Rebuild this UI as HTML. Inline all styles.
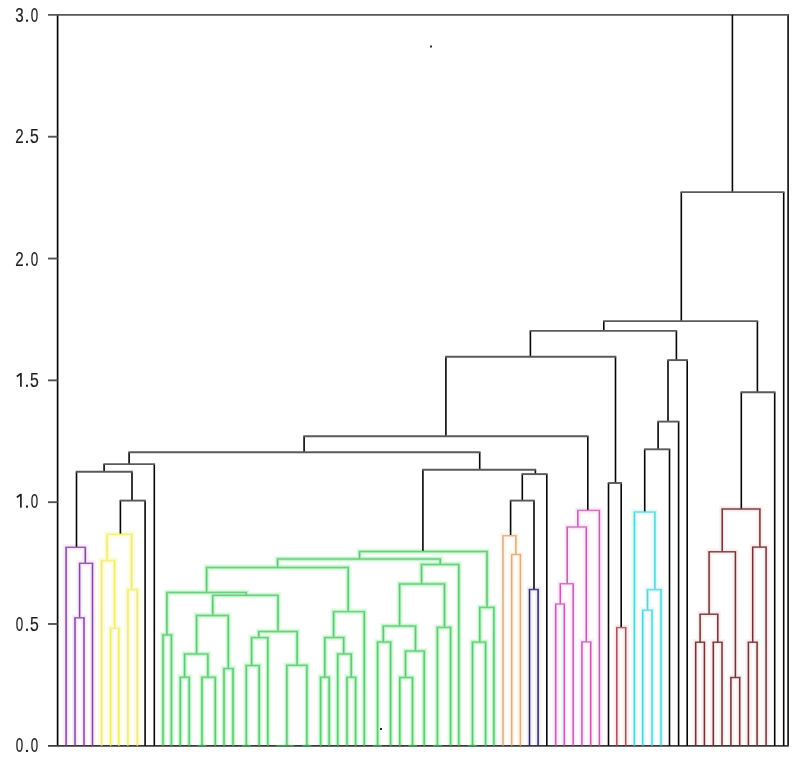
<!DOCTYPE html>
<html><head><meta charset="utf-8"><style>
html,body{margin:0;padding:0;background:#fff;}
body{width:796px;height:757px;overflow:hidden;position:relative;}
svg{position:absolute;left:0;top:0;}
</style></head><body>
<svg width="796" height="757" viewBox="0 0 796 757">
<g fill="none" stroke-width="6.5" stroke-linejoin="miter"><path d="M66.1 745.8V547.3H85.3V563.3" stroke="#faf0fd"/><path d="M79.6 617.8V563.3H92.5V745.8" stroke="#faf0fd"/><path d="M75 745.8V617.8H84V745.8" stroke="#faf0fd"/><path d="M107.1 560.6V534.3H131.6V589.5" stroke="#fefde0"/><path d="M101.6 745.8V560.6H114.6V628.3" stroke="#fefde0"/><path d="M110.6 745.8V628.3H118.8V745.8" stroke="#fefde0"/><path d="M127.9 745.8V589.5H137.3V745.8" stroke="#fefde0"/><path d="M359.6 558.9V551.5H487V607.4" stroke="#e8fdea"/><path d="M277.6 567.4V558.9H440.2V564.4" stroke="#e8fdea"/><path d="M206.6 592.5V567.4H348.2V611.6" stroke="#e8fdea"/><path d="M166.9 634.9V592.5H246.3V595.2" stroke="#e8fdea"/><path d="M163 745.8V634.9H171.4V745.8" stroke="#e8fdea"/><path d="M212.7 615.4V595.2H278V631.5" stroke="#e8fdea"/><path d="M196.6 654V615.4H228.3V668.6" stroke="#e8fdea"/><path d="M184.6 677.2V654H207.9V677.2" stroke="#e8fdea"/><path d="M180.3 745.8V677.2H189.2V745.8" stroke="#e8fdea"/><path d="M202 745.8V677.2H215.3V745.8" stroke="#e8fdea"/><path d="M224 745.8V668.6H233V745.8" stroke="#e8fdea"/><path d="M258.8 637.6V631.5H297.1V665.3" stroke="#e8fdea"/><path d="M251.6 665.5V637.6H267.8V745.8" stroke="#e8fdea"/><path d="M246.3 745.8V665.5H259.2V745.8" stroke="#e8fdea"/><path d="M286.8 745.8V665.3H306.9V745.8" stroke="#e8fdea"/><path d="M333.6 637.5V611.6H364.3V745.8" stroke="#e8fdea"/><path d="M324.8 677.2V637.5H343.7V654" stroke="#e8fdea"/><path d="M320.6 745.8V677.2H329.2V745.8" stroke="#e8fdea"/><path d="M337.7 745.8V654H351.2V677.2" stroke="#e8fdea"/><path d="M347 745.8V677.2H355.6V745.8" stroke="#e8fdea"/><path d="M421.5 583.9V564.4H458.8V745.8" stroke="#e8fdea"/><path d="M399.6 626V583.9H444.5V627.4" stroke="#e8fdea"/><path d="M383.3 642V626H415.5V651" stroke="#e8fdea"/><path d="M377.6 745.8V642H390.6V745.8" stroke="#e8fdea"/><path d="M405.5 677.5V651H424.2V745.8" stroke="#e8fdea"/><path d="M399.8 745.8V677.5H412.5V745.8" stroke="#e8fdea"/><path d="M437.4 745.8V627.4H450.6V745.8" stroke="#e8fdea"/><path d="M479.8 642.1V607.4H493.9V745.8" stroke="#e8fdea"/><path d="M472.5 745.8V642.1H485.6V745.8" stroke="#e8fdea"/><path d="M503 745.8V535.7H515.9V554.5" stroke="#fff8ee"/><path d="M511.7 745.8V554.5H520.4V745.8" stroke="#fff8ee"/><path d="M529.5 745.8V589.5H538.1V745.8" stroke="#f4f3fa"/><path d="M577.8 527V510.4H599.4V745.8" stroke="#fef0fc"/><path d="M567.2 583.7V527H586.3V641.9" stroke="#fef0fc"/><path d="M560.3 604V583.7H573.2V745.8" stroke="#fef0fc"/><path d="M555.7 745.8V604H564.3V745.8" stroke="#fef0fc"/><path d="M581.9 745.8V641.9H590.7V745.8" stroke="#fef0fc"/><path d="M616.8 745.8V627.6H625.7V745.8" stroke="#fdf2f3"/><path d="M634.4 745.8V512H654.9V589.6" stroke="#ecfcfd"/><path d="M647.5 610.2V589.6H661V745.8" stroke="#ecfcfd"/><path d="M642.7 745.8V610.2H652V745.8" stroke="#ecfcfd"/><path d="M722.2 551.8V508.9H759.9V547.1" stroke="#fcf3f3"/><path d="M709.1 614.2V551.8H735.4V677.5" stroke="#fcf3f3"/><path d="M700.1 642.2V614.2H717.8V642.2" stroke="#fcf3f3"/><path d="M695.7 745.8V642.2H704.4V745.8" stroke="#fcf3f3"/><path d="M713.3 745.8V642.2H722V745.8" stroke="#fcf3f3"/><path d="M730.9 745.8V677.5H739.7V745.8" stroke="#fcf3f3"/><path d="M752.7 642.2V547.1H766.1V745.8" stroke="#fcf3f3"/><path d="M748.4 745.8V642.2H757.1V745.8" stroke="#fcf3f3"/></g>
<g fill="none" stroke-width="3.6" stroke-linejoin="miter"><path d="M66.1 745.8V547.3H85.3V563.3" stroke="#f4e0fa"/><path d="M79.6 617.8V563.3H92.5V745.8" stroke="#f4e0fa"/><path d="M75 745.8V617.8H84V745.8" stroke="#f4e0fa"/><path d="M107.1 560.6V534.3H131.6V589.5" stroke="#fcfac8"/><path d="M101.6 745.8V560.6H114.6V628.3" stroke="#fcfac8"/><path d="M110.6 745.8V628.3H118.8V745.8" stroke="#fcfac8"/><path d="M127.9 745.8V589.5H137.3V745.8" stroke="#fcfac8"/><path d="M359.6 558.9V551.5H487V607.4" stroke="#b8f6c2"/><path d="M277.6 567.4V558.9H440.2V564.4" stroke="#b8f6c2"/><path d="M206.6 592.5V567.4H348.2V611.6" stroke="#b8f6c2"/><path d="M166.9 634.9V592.5H246.3V595.2" stroke="#b8f6c2"/><path d="M163 745.8V634.9H171.4V745.8" stroke="#b8f6c2"/><path d="M212.7 615.4V595.2H278V631.5" stroke="#b8f6c2"/><path d="M196.6 654V615.4H228.3V668.6" stroke="#b8f6c2"/><path d="M184.6 677.2V654H207.9V677.2" stroke="#b8f6c2"/><path d="M180.3 745.8V677.2H189.2V745.8" stroke="#b8f6c2"/><path d="M202 745.8V677.2H215.3V745.8" stroke="#b8f6c2"/><path d="M224 745.8V668.6H233V745.8" stroke="#b8f6c2"/><path d="M258.8 637.6V631.5H297.1V665.3" stroke="#b8f6c2"/><path d="M251.6 665.5V637.6H267.8V745.8" stroke="#b8f6c2"/><path d="M246.3 745.8V665.5H259.2V745.8" stroke="#b8f6c2"/><path d="M286.8 745.8V665.3H306.9V745.8" stroke="#b8f6c2"/><path d="M333.6 637.5V611.6H364.3V745.8" stroke="#b8f6c2"/><path d="M324.8 677.2V637.5H343.7V654" stroke="#b8f6c2"/><path d="M320.6 745.8V677.2H329.2V745.8" stroke="#b8f6c2"/><path d="M337.7 745.8V654H351.2V677.2" stroke="#b8f6c2"/><path d="M347 745.8V677.2H355.6V745.8" stroke="#b8f6c2"/><path d="M421.5 583.9V564.4H458.8V745.8" stroke="#b8f6c2"/><path d="M399.6 626V583.9H444.5V627.4" stroke="#b8f6c2"/><path d="M383.3 642V626H415.5V651" stroke="#b8f6c2"/><path d="M377.6 745.8V642H390.6V745.8" stroke="#b8f6c2"/><path d="M405.5 677.5V651H424.2V745.8" stroke="#b8f6c2"/><path d="M399.8 745.8V677.5H412.5V745.8" stroke="#b8f6c2"/><path d="M437.4 745.8V627.4H450.6V745.8" stroke="#b8f6c2"/><path d="M479.8 642.1V607.4H493.9V745.8" stroke="#b8f6c2"/><path d="M472.5 745.8V642.1H485.6V745.8" stroke="#b8f6c2"/><path d="M503 745.8V535.7H515.9V554.5" stroke="#fff0dc"/><path d="M511.7 745.8V554.5H520.4V745.8" stroke="#fff0dc"/><path d="M529.5 745.8V589.5H538.1V745.8" stroke="#e8e6f4"/><path d="M577.8 527V510.4H599.4V745.8" stroke="#fde2f8"/><path d="M567.2 583.7V527H586.3V641.9" stroke="#fde2f8"/><path d="M560.3 604V583.7H573.2V745.8" stroke="#fde2f8"/><path d="M555.7 745.8V604H564.3V745.8" stroke="#fde2f8"/><path d="M581.9 745.8V641.9H590.7V745.8" stroke="#fde2f8"/><path d="M616.8 745.8V627.6H625.7V745.8" stroke="#fbe4e8"/><path d="M634.4 745.8V512H654.9V589.6" stroke="#d2f8fa"/><path d="M647.5 610.2V589.6H661V745.8" stroke="#d2f8fa"/><path d="M642.7 745.8V610.2H652V745.8" stroke="#d2f8fa"/><path d="M722.2 551.8V508.9H759.9V547.1" stroke="#f8e6e6"/><path d="M709.1 614.2V551.8H735.4V677.5" stroke="#f8e6e6"/><path d="M700.1 642.2V614.2H717.8V642.2" stroke="#f8e6e6"/><path d="M695.7 745.8V642.2H704.4V745.8" stroke="#f8e6e6"/><path d="M713.3 745.8V642.2H722V745.8" stroke="#f8e6e6"/><path d="M730.9 745.8V677.5H739.7V745.8" stroke="#f8e6e6"/><path d="M752.7 642.2V547.1H766.1V745.8" stroke="#f8e6e6"/><path d="M748.4 745.8V642.2H757.1V745.8" stroke="#f8e6e6"/></g>
<g stroke="#080808" fill="none">
<line x1="57.6" y1="14" x2="57.6" y2="745.8" stroke-width="1.7"/>
<line x1="788.1" y1="14" x2="788.1" y2="745.8" stroke-width="1.6"/>
<line x1="48" y1="14.9" x2="788.85" y2="14.9" stroke-width="1.9" stroke="#555"/>
<line x1="48" y1="745.8" x2="788.85" y2="745.8" stroke-width="1.8" stroke="#3a3a3a"/>
<line x1="48" y1="623.98" x2="57.6" y2="623.98" stroke-width="1.9" stroke="#555"/>
<line x1="48" y1="502.17" x2="57.6" y2="502.17" stroke-width="1.9" stroke="#555"/>
<line x1="48" y1="380.35" x2="57.6" y2="380.35" stroke-width="1.9" stroke="#555"/>
<line x1="48" y1="258.53" x2="57.6" y2="258.53" stroke-width="1.9" stroke="#555"/>
<line x1="48" y1="136.72" x2="57.6" y2="136.72" stroke-width="1.9" stroke="#555"/>
<line x1="732.4" y1="14.9" x2="732.4" y2="192.1" stroke-width="1.6"/>
</g>
<g fill="none" stroke-width="1.5"><path d="M681.3 321.1V192.1M783.7 192.1V745.8" stroke="#060606" stroke-width="1.6"/><path d="M680.55 192.1H784.45" stroke="#5a5a5a" stroke-width="1.9"/><path d="M603.8 330.9V321.1M757.4 321.1V392.2" stroke="#060606" stroke-width="1.6"/><path d="M603.05 321.1H758.15" stroke="#5a5a5a" stroke-width="1.9"/><path d="M530.4 356.8V330.9M676.4 330.9V360.1" stroke="#060606" stroke-width="1.6"/><path d="M529.65 330.9H677.15" stroke="#5a5a5a" stroke-width="1.9"/><path d="M445.9 436.3V356.8M615.5 356.8V483" stroke="#060606" stroke-width="1.6"/><path d="M445.15 356.8H616.25" stroke="#5a5a5a" stroke-width="1.9"/><path d="M304.1 452.3V436.3M587.8 436.3V510.4" stroke="#060606" stroke-width="1.6"/><path d="M303.35 436.3H588.55" stroke="#5a5a5a" stroke-width="1.9"/><path d="M129.1 464.1V452.3M479.7 452.3V469.7" stroke="#060606" stroke-width="1.6"/><path d="M128.35 452.3H480.45" stroke="#5a5a5a" stroke-width="1.9"/><path d="M104.1 471.8V464.1M154.3 464.1V745.8" stroke="#060606" stroke-width="1.6"/><path d="M103.35 464.1H155.05" stroke="#5a5a5a" stroke-width="1.9"/><path d="M76.5 547.3V471.8M132 471.8V500.6" stroke="#060606" stroke-width="1.6"/><path d="M75.75 471.8H132.75" stroke="#5a5a5a" stroke-width="1.9"/><path d="M120.4 534.3V500.6M145.1 500.6V745.8" stroke="#060606" stroke-width="1.6"/><path d="M119.65 500.6H145.85" stroke="#5a5a5a" stroke-width="1.9"/><path d="M422.9 551.5V469.7M535.4 469.7V474.1" stroke="#060606" stroke-width="1.6"/><path d="M422.15 469.7H536.15" stroke="#5a5a5a" stroke-width="1.9"/><path d="M522.3 500.6V474.1M546.8 474.1V745.8" stroke="#060606" stroke-width="1.6"/><path d="M521.55 474.1H547.55" stroke="#5a5a5a" stroke-width="1.9"/><path d="M510.6 535.7V500.6M534 500.6V589.5" stroke="#060606" stroke-width="1.6"/><path d="M509.85 500.6H534.75" stroke="#5a5a5a" stroke-width="1.9"/><path d="M608.5 745.8V483M621.2 483V627.6" stroke="#060606" stroke-width="1.6"/><path d="M607.75 483H621.95" stroke="#5a5a5a" stroke-width="1.9"/><path d="M668 421.6V360.1M687.2 360.1V745.8" stroke="#060606" stroke-width="1.6"/><path d="M667.25 360.1H687.95" stroke="#5a5a5a" stroke-width="1.9"/><path d="M658.1 449.3V421.6M678.6 421.6V745.8" stroke="#060606" stroke-width="1.6"/><path d="M657.35 421.6H679.35" stroke="#5a5a5a" stroke-width="1.9"/><path d="M644.7 512V449.3M669.5 449.3V745.8" stroke="#060606" stroke-width="1.6"/><path d="M643.95 449.3H670.25" stroke="#5a5a5a" stroke-width="1.9"/><path d="M741.3 508.9V392.2M774.7 392.2V745.8" stroke="#060606" stroke-width="1.6"/><path d="M740.55 392.2H775.45" stroke="#5a5a5a" stroke-width="1.9"/><path d="M66.1 745.8V547.3M85.3 547.3V563.3" stroke="#8248a0" stroke-width="1.5"/><path d="M65.35 547.3H86.05" stroke="#8e64a0" stroke-width="1.45"/><path d="M79.6 617.8V563.3M92.5 563.3V745.8" stroke="#8248a0" stroke-width="1.5"/><path d="M78.85 563.3H93.25" stroke="#8e64a0" stroke-width="1.45"/><path d="M75 745.8V617.8M84 617.8V745.8" stroke="#8248a0" stroke-width="1.5"/><path d="M74.25 617.8H84.75" stroke="#8e64a0" stroke-width="1.45"/><path d="M107.1 560.6V534.3M131.6 534.3V589.5" stroke="#eeeb74" stroke-width="1.5"/><path d="M106.35 534.3H132.35" stroke="#f2f08e" stroke-width="1.45"/><path d="M101.6 745.8V560.6M114.6 560.6V628.3" stroke="#eeeb74" stroke-width="1.5"/><path d="M100.85 560.6H115.35" stroke="#f2f08e" stroke-width="1.45"/><path d="M110.6 745.8V628.3M118.8 628.3V745.8" stroke="#eeeb74" stroke-width="1.5"/><path d="M109.85 628.3H119.55" stroke="#f2f08e" stroke-width="1.45"/><path d="M127.9 745.8V589.5M137.3 589.5V745.8" stroke="#eeeb74" stroke-width="1.5"/><path d="M127.15 589.5H138.05" stroke="#f2f08e" stroke-width="1.45"/><path d="M359.6 558.9V551.5M487 551.5V607.4" stroke="#64c47a" stroke-width="1.5"/><path d="M358.85 551.5H487.75" stroke="#74ca88" stroke-width="1.45"/><path d="M277.6 567.4V558.9M440.2 558.9V564.4" stroke="#64c47a" stroke-width="1.5"/><path d="M276.85 558.9H440.95" stroke="#74ca88" stroke-width="1.45"/><path d="M206.6 592.5V567.4M348.2 567.4V611.6" stroke="#64c47a" stroke-width="1.5"/><path d="M205.85 567.4H348.95" stroke="#74ca88" stroke-width="1.45"/><path d="M166.9 634.9V592.5M246.3 592.5V595.2" stroke="#64c47a" stroke-width="1.5"/><path d="M166.15 592.5H247.05" stroke="#74ca88" stroke-width="1.45"/><path d="M163 745.8V634.9M171.4 634.9V745.8" stroke="#64c47a" stroke-width="1.5"/><path d="M162.25 634.9H172.15" stroke="#74ca88" stroke-width="1.45"/><path d="M212.7 615.4V595.2M278 595.2V631.5" stroke="#64c47a" stroke-width="1.5"/><path d="M211.95 595.2H278.75" stroke="#74ca88" stroke-width="1.45"/><path d="M196.6 654V615.4M228.3 615.4V668.6" stroke="#64c47a" stroke-width="1.5"/><path d="M195.85 615.4H229.05" stroke="#74ca88" stroke-width="1.45"/><path d="M184.6 677.2V654M207.9 654V677.2" stroke="#64c47a" stroke-width="1.5"/><path d="M183.85 654H208.65" stroke="#74ca88" stroke-width="1.45"/><path d="M180.3 745.8V677.2M189.2 677.2V745.8" stroke="#64c47a" stroke-width="1.5"/><path d="M179.55 677.2H189.95" stroke="#74ca88" stroke-width="1.45"/><path d="M202 745.8V677.2M215.3 677.2V745.8" stroke="#64c47a" stroke-width="1.5"/><path d="M201.25 677.2H216.05" stroke="#74ca88" stroke-width="1.45"/><path d="M224 745.8V668.6M233 668.6V745.8" stroke="#64c47a" stroke-width="1.5"/><path d="M223.25 668.6H233.75" stroke="#74ca88" stroke-width="1.45"/><path d="M258.8 637.6V631.5M297.1 631.5V665.3" stroke="#64c47a" stroke-width="1.5"/><path d="M258.05 631.5H297.85" stroke="#74ca88" stroke-width="1.45"/><path d="M251.6 665.5V637.6M267.8 637.6V745.8" stroke="#64c47a" stroke-width="1.5"/><path d="M250.85 637.6H268.55" stroke="#74ca88" stroke-width="1.45"/><path d="M246.3 745.8V665.5M259.2 665.5V745.8" stroke="#64c47a" stroke-width="1.5"/><path d="M245.55 665.5H259.95" stroke="#74ca88" stroke-width="1.45"/><path d="M286.8 745.8V665.3M306.9 665.3V745.8" stroke="#64c47a" stroke-width="1.5"/><path d="M286.05 665.3H307.65" stroke="#74ca88" stroke-width="1.45"/><path d="M333.6 637.5V611.6M364.3 611.6V745.8" stroke="#64c47a" stroke-width="1.5"/><path d="M332.85 611.6H365.05" stroke="#74ca88" stroke-width="1.45"/><path d="M324.8 677.2V637.5M343.7 637.5V654" stroke="#64c47a" stroke-width="1.5"/><path d="M324.05 637.5H344.45" stroke="#74ca88" stroke-width="1.45"/><path d="M320.6 745.8V677.2M329.2 677.2V745.8" stroke="#64c47a" stroke-width="1.5"/><path d="M319.85 677.2H329.95" stroke="#74ca88" stroke-width="1.45"/><path d="M337.7 745.8V654M351.2 654V677.2" stroke="#64c47a" stroke-width="1.5"/><path d="M336.95 654H351.95" stroke="#74ca88" stroke-width="1.45"/><path d="M347 745.8V677.2M355.6 677.2V745.8" stroke="#64c47a" stroke-width="1.5"/><path d="M346.25 677.2H356.35" stroke="#74ca88" stroke-width="1.45"/><path d="M421.5 583.9V564.4M458.8 564.4V745.8" stroke="#64c47a" stroke-width="1.5"/><path d="M420.75 564.4H459.55" stroke="#74ca88" stroke-width="1.45"/><path d="M399.6 626V583.9M444.5 583.9V627.4" stroke="#64c47a" stroke-width="1.5"/><path d="M398.85 583.9H445.25" stroke="#74ca88" stroke-width="1.45"/><path d="M383.3 642V626M415.5 626V651" stroke="#64c47a" stroke-width="1.5"/><path d="M382.55 626H416.25" stroke="#74ca88" stroke-width="1.45"/><path d="M377.6 745.8V642M390.6 642V745.8" stroke="#64c47a" stroke-width="1.5"/><path d="M376.85 642H391.35" stroke="#74ca88" stroke-width="1.45"/><path d="M405.5 677.5V651M424.2 651V745.8" stroke="#64c47a" stroke-width="1.5"/><path d="M404.75 651H424.95" stroke="#74ca88" stroke-width="1.45"/><path d="M399.8 745.8V677.5M412.5 677.5V745.8" stroke="#64c47a" stroke-width="1.5"/><path d="M399.05 677.5H413.25" stroke="#74ca88" stroke-width="1.45"/><path d="M437.4 745.8V627.4M450.6 627.4V745.8" stroke="#64c47a" stroke-width="1.5"/><path d="M436.65 627.4H451.35" stroke="#74ca88" stroke-width="1.45"/><path d="M479.8 642.1V607.4M493.9 607.4V745.8" stroke="#64c47a" stroke-width="1.5"/><path d="M479.05 607.4H494.65" stroke="#74ca88" stroke-width="1.45"/><path d="M472.5 745.8V642.1M485.6 642.1V745.8" stroke="#64c47a" stroke-width="1.5"/><path d="M471.75 642.1H486.35" stroke="#74ca88" stroke-width="1.45"/><path d="M503 745.8V535.7M515.9 535.7V554.5" stroke="#d8ae84" stroke-width="1.5"/><path d="M502.25 535.7H516.65" stroke="#dcb890" stroke-width="1.45"/><path d="M511.7 745.8V554.5M520.4 554.5V745.8" stroke="#d8ae84" stroke-width="1.5"/><path d="M510.95 554.5H521.15" stroke="#dcb890" stroke-width="1.45"/><path d="M529.5 745.8V589.5M538.1 589.5V745.8" stroke="#2e2466" stroke-width="1.5"/><path d="M528.75 589.5H538.85" stroke="#4a4480" stroke-width="1.45"/><path d="M577.8 527V510.4M599.4 510.4V745.8" stroke="#c45cb4" stroke-width="1.5"/><path d="M577.05 510.4H600.15" stroke="#cc78c0" stroke-width="1.45"/><path d="M567.2 583.7V527M586.3 527V641.9" stroke="#c45cb4" stroke-width="1.5"/><path d="M566.45 527H587.05" stroke="#cc78c0" stroke-width="1.45"/><path d="M560.3 604V583.7M573.2 583.7V745.8" stroke="#c45cb4" stroke-width="1.5"/><path d="M559.55 583.7H573.95" stroke="#cc78c0" stroke-width="1.45"/><path d="M555.7 745.8V604M564.3 604V745.8" stroke="#c45cb4" stroke-width="1.5"/><path d="M554.95 604H565.05" stroke="#cc78c0" stroke-width="1.45"/><path d="M581.9 745.8V641.9M590.7 641.9V745.8" stroke="#c45cb4" stroke-width="1.5"/><path d="M581.15 641.9H591.45" stroke="#cc78c0" stroke-width="1.45"/><path d="M616.8 745.8V627.6M625.7 627.6V745.8" stroke="#a4505a" stroke-width="1.5"/><path d="M616.05 627.6H626.45" stroke="#b06870" stroke-width="1.45"/><path d="M634.4 745.8V512M654.9 512V589.6" stroke="#56d2dc" stroke-width="1.5"/><path d="M633.65 512H655.65" stroke="#76dae0" stroke-width="1.45"/><path d="M647.5 610.2V589.6M661 589.6V745.8" stroke="#56d2dc" stroke-width="1.5"/><path d="M646.75 589.6H661.75" stroke="#76dae0" stroke-width="1.45"/><path d="M642.7 745.8V610.2M652 610.2V745.8" stroke="#56d2dc" stroke-width="1.5"/><path d="M641.95 610.2H652.75" stroke="#76dae0" stroke-width="1.45"/><path d="M722.2 551.8V508.9M759.9 508.9V547.1" stroke="#6e3438" stroke-width="1.5"/><path d="M721.45 508.9H760.65" stroke="#7a4248" stroke-width="1.45"/><path d="M709.1 614.2V551.8M735.4 551.8V677.5" stroke="#6e3438" stroke-width="1.5"/><path d="M708.35 551.8H736.15" stroke="#7a4248" stroke-width="1.45"/><path d="M700.1 642.2V614.2M717.8 614.2V642.2" stroke="#6e3438" stroke-width="1.5"/><path d="M699.35 614.2H718.55" stroke="#7a4248" stroke-width="1.45"/><path d="M695.7 745.8V642.2M704.4 642.2V745.8" stroke="#6e3438" stroke-width="1.5"/><path d="M694.95 642.2H705.15" stroke="#7a4248" stroke-width="1.45"/><path d="M713.3 745.8V642.2M722 642.2V745.8" stroke="#6e3438" stroke-width="1.5"/><path d="M712.55 642.2H722.75" stroke="#7a4248" stroke-width="1.45"/><path d="M730.9 745.8V677.5M739.7 677.5V745.8" stroke="#6e3438" stroke-width="1.5"/><path d="M730.15 677.5H740.45" stroke="#7a4248" stroke-width="1.45"/><path d="M752.7 642.2V547.1M766.1 547.1V745.8" stroke="#6e3438" stroke-width="1.5"/><path d="M751.95 547.1H766.85" stroke="#7a4248" stroke-width="1.45"/><path d="M748.4 745.8V642.2M757.1 642.2V745.8" stroke="#6e3438" stroke-width="1.5"/><path d="M747.65 642.2H757.85" stroke="#7a4248" stroke-width="1.45"/><path d="M197.6 745.8H206.4" stroke="#3f9a58" stroke-width="1.8"/><path d="M241.9 745.8H250.7" stroke="#3f9a58" stroke-width="1.8"/><path d="M276.4 745.8H293.9" stroke="#3f9a58" stroke-width="1.8"/><path d="M302.5 745.8H311.3" stroke="#3f9a58" stroke-width="1.8"/><path d="M373.2 745.8H382" stroke="#3f9a58" stroke-width="1.8"/><path d="M408.1 745.8H416.9" stroke="#3f9a58" stroke-width="1.8"/><path d="M433 745.8H441.8" stroke="#3f9a58" stroke-width="1.8"/><path d="M468.1 745.8H476.9" stroke="#3f9a58" stroke-width="1.8"/></g>
<rect x="430" y="45.5" width="2" height="2" fill="#333"/>
<rect x="380" y="728" width="2" height="2" fill="#222"/>
<g font-family="Liberation Sans" font-size="20" fill="#1d1d24" stroke="#1d1d24" stroke-width="0.2" style="filter:grayscale(1)"><text transform="translate(15.77,752) scale(0.67,1)">0</text><rect x="26" y="749.9" width="2" height="2.1" fill="#1d1d24" stroke="none"/><text transform="translate(30.77,752) scale(0.67,1)">0</text><text transform="translate(15.77,630.8) scale(0.67,1)">0</text><rect x="26" y="628.7" width="2" height="2.1" fill="#1d1d24" stroke="none"/><text transform="translate(30.12,630.8) scale(0.79,1)">5</text><rect x="20.05" y="493.9" width="1.7" height="13.8" fill="#1d1d24" stroke="none"/><path d="M16.8 497.4L20.7 494.5" stroke="#1d1d24" stroke-width="1.7" fill="none"/><rect x="26" y="505.6" width="2" height="2.1" fill="#1d1d24" stroke="none"/><text transform="translate(30.77,507.7) scale(0.67,1)">0</text><rect x="20.05" y="373" width="1.7" height="13.8" fill="#1d1d24" stroke="none"/><path d="M16.8 376.5L20.7 373.6" stroke="#1d1d24" stroke-width="1.7" fill="none"/><rect x="26" y="384.7" width="2" height="2.1" fill="#1d1d24" stroke="none"/><text transform="translate(30.12,386.8) scale(0.79,1)">5</text><text transform="translate(15.27,265.6) scale(0.76,1)">2</text><rect x="26" y="263.5" width="2" height="2.1" fill="#1d1d24" stroke="none"/><text transform="translate(30.77,265.6) scale(0.67,1)">0</text><text transform="translate(15.27,142.9) scale(0.76,1)">2</text><rect x="26" y="140.8" width="2" height="2.1" fill="#1d1d24" stroke="none"/><text transform="translate(30.12,142.9) scale(0.79,1)">5</text><text transform="translate(15.32,21.7) scale(0.76,1)">3</text><rect x="26" y="19.6" width="2" height="2.1" fill="#1d1d24" stroke="none"/><text transform="translate(30.77,21.7) scale(0.67,1)">0</text></g>
</svg>
</body></html>
